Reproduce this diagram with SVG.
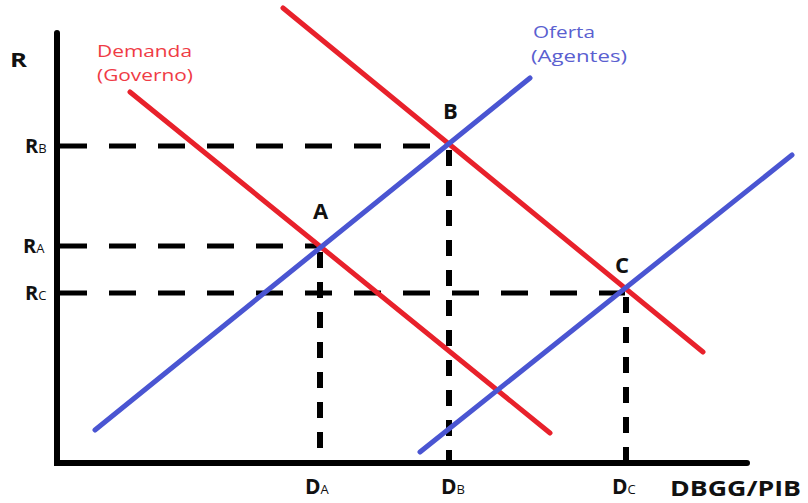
<svg xmlns="http://www.w3.org/2000/svg" width="808" height="503" viewBox="0 0 808 503">
<style>
.axis{stroke:#000;stroke-width:6;stroke-linecap:round;fill:none}
.dash{stroke:#000;stroke-width:5;stroke-dasharray:27 22;fill:none}
.vdash{stroke:#000;stroke-width:6;stroke-dasharray:16 14;fill:none}
.red{stroke:#e8212b;stroke-width:5;stroke-linecap:round;fill:none}
.blue{stroke:#4a55d2;stroke-width:5;stroke-linecap:round;fill:none}
.lbl{font-family:"Open Sans","DejaVu Sans",sans-serif;font-weight:bold;fill:#111}
.sub{font-size:13px;font-weight:normal}
.cap{font-family:"Open Sans","DejaVu Sans",sans-serif;font-size:17px}
</style>
<rect width="808" height="503" fill="#fff"/>
<g id="connectors">
<path class="dash" d="M60 146H447M60 246H318M60 293H625"/>
<path class="vdash" d="M449 150V463M320 252V463M626 297V463"/>
<line class="red" x1="130" y1="92" x2="550" y2="433"/>
<line class="red" x1="283" y1="8" x2="703" y2="352"/>
<line class="blue" x1="95" y1="430" x2="530" y2="78"/>
<line class="blue" x1="420" y1="452" x2="792" y2="155"/>
</g>
<g id="axes">
<path class="axis" d="M57 33V463H747"/>
</g>
<g id="labels">
<text class="lbl" x="10" y="67" font-size="20" textLength="17" lengthAdjust="spacingAndGlyphs">R</text>
<text class="lbl" x="25" y="153" font-size="20">R<tspan class="sub">B</tspan></text>
<text class="lbl" x="23" y="253" font-size="20">R<tspan class="sub">A</tspan></text>
<text class="lbl" x="25" y="300" font-size="20">R<tspan class="sub">C</tspan></text>
<text class="lbl" x="305" y="494" font-size="21">D<tspan class="sub">A</tspan></text>
<text class="lbl" x="441" y="494" font-size="21">D<tspan class="sub">B</tspan></text>
<text class="lbl" x="612" y="494" font-size="21">D<tspan class="sub">C</tspan></text>
<text class="lbl" x="670" y="496" font-size="22" textLength="131" lengthAdjust="spacingAndGlyphs">DBGG/PIB</text>
<text class="lbl" x="313" y="219" font-size="22">A</text>
<text class="lbl" x="443" y="119" font-size="22">B</text>
<text class="lbl" x="615" y="273" font-size="22">C</text>
</g>
<g id="demanda">
<text class="cap" fill="#ef3b45" x="97" y="57" textLength="95" lengthAdjust="spacingAndGlyphs">Demanda</text>
<text class="cap" fill="#ef3b45" x="97" y="81" textLength="96" lengthAdjust="spacingAndGlyphs">(Governo)</text>
</g>
<g id="oferta">
<text class="cap" fill="#5a60d0" x="533" y="38" textLength="62" lengthAdjust="spacingAndGlyphs">Oferta</text>
<text class="cap" fill="#5a60d0" x="531" y="62" textLength="96" lengthAdjust="spacingAndGlyphs">(Agentes)</text>
</g>
</svg>
